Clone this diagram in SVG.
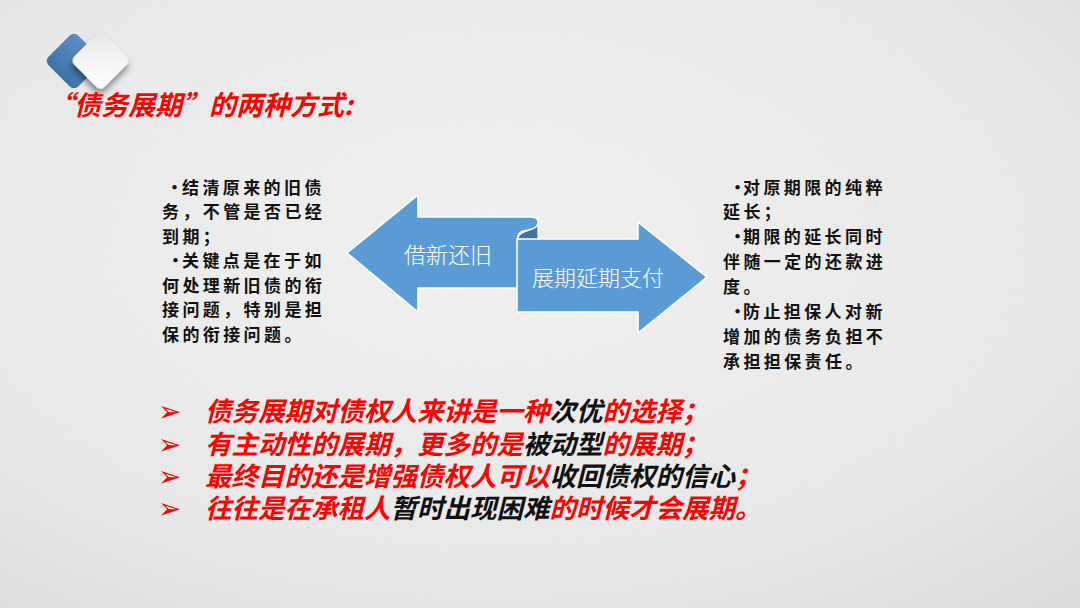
<svg xmlns="http://www.w3.org/2000/svg" width="1080" height="608" viewBox="0 0 1080 608">
  <defs>
    <radialGradient id="bg" cx="0.45" cy="0.4" r="0.8">
      <stop offset="0" stop-color="#f3f3f3"/>
      <stop offset="0.7" stop-color="#ebebeb"/>
      <stop offset="1" stop-color="#dedede"/>
    </radialGradient>
    <filter id="noise" x="0" y="0" width="100%" height="100%">
      <feTurbulence type="fractalNoise" baseFrequency="0.9" numOctaves="2" seed="3" result="n"/>
      <feColorMatrix in="n" type="matrix" values="0 0 0 0 0.5  0 0 0 0 0.5  0 0 0 0 0.5  0 0 0 0.12 0"/>
    </filter>
    <linearGradient id="blueDia" x1="0" y1="0" x2="0" y2="1">
      <stop offset="0" stop-color="#5b8fc2"/>
      <stop offset="1" stop-color="#3f72a6"/>
    </linearGradient>
    <linearGradient id="grayDia" x1="0" y1="0" x2="1" y2="1">
      <stop offset="0" stop-color="#e4e5e8"/>
      <stop offset="0.5" stop-color="#f4f4f6"/>
      <stop offset="1" stop-color="#ffffff"/>
    </linearGradient>
    <filter id="shadow" x="-40%" y="-40%" width="180%" height="180%">
      <feGaussianBlur in="SourceAlpha" stdDeviation="3"/>
      <feOffset dx="3" dy="4" result="b"/>
      <feComponentTransfer><feFuncA type="linear" slope="0.45"/></feComponentTransfer>
      <feMerge><feMergeNode/><feMergeNode in="SourceGraphic"/></feMerge>
    </filter>
    <style>
      .title { font-family: "Noto Sans CJK SC", sans-serif; font-size: 27px; font-weight: 700; font-style: italic; fill: #ff0000; }
      .side { font-family: "Noto Sans CJK SC", sans-serif; font-size: 17px; font-weight: 700; fill: #111111; letter-spacing: 3.4px; }
      .dot { font-family: "Noto Sans CJK SC", sans-serif; font-size: 17px; font-weight: 700; fill: #111111; }
      .rib { fill: #5b9bd5; stroke: #ffffff; stroke-width: 1.6; stroke-linejoin: round; }
      .ribDark { fill: #41719c; stroke: #ffffff; stroke-width: 1.2; stroke-linejoin: round; }
      .ribText { font-family: "Noto Sans CJK SC", sans-serif; font-size: 22px; font-weight: 300; fill: #ffffff; text-anchor: middle; }
      .bl { font-family: "Noto Sans CJK SC", sans-serif; font-size: 26.5px; font-weight: 700; font-style: italic; fill: #ff0000; }
      .k { fill: #111111; }
      .arr { font-family: "DejaVu Sans", sans-serif; font-size: 28px; fill: #ff0000; }
    </style>
  </defs>

  <rect width="1080" height="608" fill="url(#bg)"/>
  <rect width="1080" height="608" filter="url(#noise)"/>

  <g id="logo">
    <rect x="53" y="40" width="42" height="42" rx="6" fill="url(#blueDia)" transform="rotate(45 74 61)"/>
    <rect x="79" y="39" width="43" height="43" rx="6" fill="url(#grayDia)" filter="url(#shadow)" transform="rotate(45 100.5 60.5)"/>
  </g>

  <g id="title">
    <text class="title" x="47" y="115">“债务展期”的两种方式:</text>
  </g>

  <g id="left-notes">
    <text class="dot" x="166" y="194">•</text>
    <text class="side" x="182" y="194">结清原来的旧债</text>
    <text class="side" x="162" y="218">务，不管是否已经</text>
    <text class="side" x="162" y="243">到期；</text>
    <text class="dot" x="167" y="267">·</text>
    <text class="side" x="182" y="267">关键点是在于如</text>
    <text class="side" x="162" y="292">何处理新旧债的衔</text>
    <text class="side" x="162" y="316">接问题，特别是担</text>
    <text class="side" x="162" y="341">保的衔接问题。</text>
  </g>

  <g id="right-notes">
    <text class="dot" x="729" y="194">·</text>
    <text class="side" x="743" y="194">对原期限的纯粹</text>
    <text class="side" x="723" y="218">延长；</text>
    <text class="dot" x="729" y="243">·</text>
    <text class="side" x="743" y="243">期限的延长同时</text>
    <text class="side" x="723" y="268">伴随一定的还款进</text>
    <text class="side" x="723" y="293">度。</text>
    <text class="dot" x="729" y="318">·</text>
    <text class="side" x="743" y="318">防止担保人对新</text>
    <text class="side" x="723" y="343">增加的债务负担不</text>
    <text class="side" x="723" y="368">承担担保责任。</text>
  </g>

  <g id="ribbon-left">
    <path class="rib" d="M347,253 L418,195 L418,217 L531,217 C539,217 541,224 535,228 C530,231 520,229 518,236 L518,288 L418,288 L418,312 Z"/>
    <path class="ribDark" d="M518,238 C519,231 531,231 536,227 C538,225 538,223 538,221 L538,240 L518,240 Z"/>
    <text class="ribText" x="448" y="263">借新还旧</text>
  </g>

  <g id="ribbon-right">
    <path class="rib" d="M517,312 L517,239 L638,239 L638,222 L707,277 L638,333 L638,312 Z"/>
    <text class="ribText" x="598" y="286">展期延期支付</text>
  </g>

  <g id="bullets">
    <text class="arr" x="158" y="421">➢</text>
    <text class="arr" x="158" y="454">➢</text>
    <text class="arr" x="158" y="486">➢</text>
    <text class="arr" x="158" y="518">➢</text>
    <text class="bl" x="205" y="421">债务展期对债权人来讲是一种<tspan class="k">次优</tspan>的选择；</text>
    <text class="bl" x="205" y="454">有主动性的展期，更多的是<tspan class="k">被动型</tspan>的展期；</text>
    <text class="bl" x="205" y="486">最终目的还是增强债权人可以<tspan class="k">收回债权的信心</tspan>；</text>
    <text class="bl" x="205" y="518">往往是在承租人<tspan class="k">暂时出现困难</tspan>的时候才会展期。</text>
  </g>
</svg>
